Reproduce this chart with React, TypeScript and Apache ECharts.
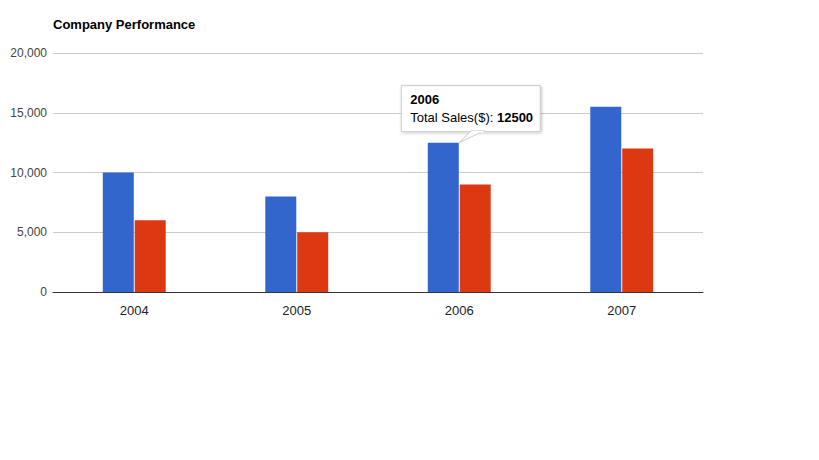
import React, { useEffect, useRef } from "react";
import * as echarts from "echarts";

const categories = ["2004", "2005", "2006", "2007"];
const salesValues = [10000, 8000, 12500, 15500];
const expenseValues = [6000, 5000, 9000, 12000];
const yTicks = { min: 0, max: 20000, interval: 5000 };
const tooltipCategory = "2006";
const tooltipValue = 12500;
const salesName = "Total Sales($)";
const expenseName = "Expenses($)";

const FONT = "Arial, 'Liberation Sans', sans-serif";

export default function App() {
  const ref = useRef<HTMLDivElement>(null);
  useEffect(() => {
    if (!ref.current) return;
    const chart = echarts.init(ref.current, null, { renderer: "svg" });
    chart.setOption({
      animation: false,
      title: {
        text: "Company Performance",
        left: 48,
        top: 13,
        textStyle: { fontFamily: FONT, fontSize: 13, fontWeight: "bold", color: "#000" },
      },
      grid: { left: 53, right: 116, top: 53, bottom: 168, containLabel: false },
      xAxis: {
        type: "category",
        data: categories,
        axisLine: { lineStyle: { color: "#333", width: 1 } },
        axisTick: { show: false },
        axisLabel: { fontFamily: FONT, fontSize: 13, color: "#222", margin: 12 },
      },
      yAxis: {
        type: "value",
        min: yTicks.min,
        max: yTicks.max,
        interval: yTicks.interval,
        axisLine: { show: false },
        axisTick: { show: false },
        splitLine: { lineStyle: { color: "#ccc", width: 1 } },
        axisLabel: {
          fontFamily: FONT,
          fontSize: 12,
          color: "#444",
          margin: 6,
          formatter: (v: number) => v.toLocaleString("en-US"),
        },
      },
      series: [
        {
          name: salesName,
          type: "bar",
          data: salesValues,
          barWidth: 31,
          barGap: "3%",
          itemStyle: { color: "#3366cc" },
        },
        {
          name: expenseName,
          type: "bar",
          data: expenseValues,
          barWidth: 31,
          barGap: "3%",
          itemStyle: { color: "#dc3912" },
        },
      ],
    });

    const tip = chart.convertToPixel({ seriesIndex: 0 }, [tooltipCategory, tooltipValue]) as number[];
    const tx = tip[0];
    const ty = tip[1];
    const bx = tx - 58;
    const by = ty - 57;
    chart.setOption({
      graphic: [
        {
          type: "rect",
          shape: { x: bx, y: by, width: 139, height: 46 },
          style: {
            fill: "#fff",
            stroke: "#ccc",
            lineWidth: 1,
            shadowBlur: 3,
            shadowColor: "rgba(0,0,0,0.25)",
            shadowOffsetX: 1,
            shadowOffsetY: 1,
          },
          z: 100,
        },
        {
          type: "polygon",
          shape: {
            points: [
              [tx, ty],
              [tx + 12, by + 45],
              [tx + 25, by + 45],
            ],
          },
          style: { fill: "#fff", stroke: "#ccc", lineWidth: 1 },
          z: 101,
        },
        {
          type: "line",
          shape: { x1: tx + 12.5, y1: by + 46, x2: tx + 24.5, y2: by + 46 },
          style: { stroke: "#fff", lineWidth: 2 },
          z: 102,
        },
        {
          type: "text",
          x: bx + 9,
          y: by + 5,
          z: 103,
          style: {
            text: `{b|${tooltipCategory}}\n{n|${salesName}: }{b|${tooltipValue}}`,
            fontFamily: FONT,
            fontSize: 13,
            lineHeight: 18,
            fill: "#000",
            rich: {
              b: { fontFamily: FONT, fontSize: 13, fontWeight: "bold", fill: "#000", lineHeight: 18 },
              n: { fontFamily: FONT, fontSize: 13, fill: "#000", lineHeight: 18 },
            },
          },
        },
      ],
    });

    return () => chart.dispose();
  }, []);
  return <div ref={ref} style={{ width: 819, height: 460, position: "absolute", left: 0, top: 0 }} />;
}
